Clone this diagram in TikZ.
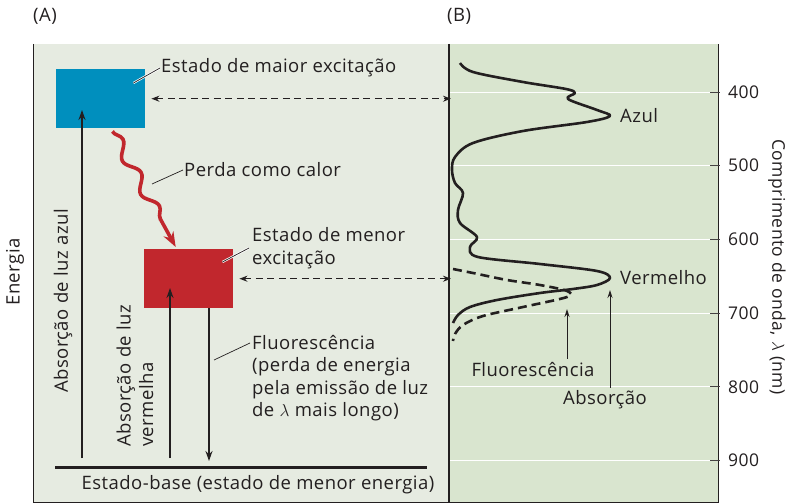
\documentclass[tikz,border=0pt]{standalone}
\usepackage{fontspec}
\setmainfont{Open Sans}[LetterSpace=2.5]
\usetikzlibrary{arrows.meta,positioning,calc,decorations.pathmorphing}
\definecolor{cpanelA}{HTML}{E6EBE1}
\definecolor{cpanelB}{HTML}{D9E5CF}
\definecolor{cblue}{HTML}{008FBE}
\definecolor{cred}{HTML}{C1272D}
\definecolor{cink}{HTML}{231F20}
\tikzset{
  lbl/.style={inner sep=0pt,font=\fontsize{18.5}{22.5}\selectfont,text=cink},
  leader/.style={draw=cink,line width=0.7pt,preaction={draw=white,line width=2.2pt}},
  >=Stealth
}

\begin{document}
\begin{tikzpicture}[x=1pt,y=-1pt,
      level/.style={fill=#1,inner sep=0pt,minimum width=89pt,minimum height=59pt,anchor=north west},
      jump/.style={draw=cink,line width=1.8pt,-{Stealth[length=10pt,width=7pt]}},
      gap/.style={draw=cink,line width=1.2pt,dash pattern=on 7pt off 4.5pt,{Stealth[length=8pt,width=6pt]}-{Stealth[length=8pt,width=6pt]}},
      tag/.style={draw=cink,line width=0.9pt,-{Stealth[length=8pt,width=5pt]}},
      spec/.style={draw=cink,line width=2.6pt,line join=round}]
    \useasboundingbox (0,0) rectangle (786,503);
    % panels
    \fill[cpanelA] (33,44) rectangle (449,502);
    \fill[cpanelB] (449,44) rectangle (718,502);
    \draw[cink,line width=1pt] (33,44) -- (33,502) -- (718,502) -- (718,44);
    \foreach \w in {400,500,...,900}{
      \pgfmathsetmacro{\yy}{92+(\w-400)*0.737}
      \draw[white,line width=0.9pt] (449,\yy) -- (710,\yy);
      \draw[cink!85,line width=0.9pt] (710,\yy) -- (720,\yy);
      \node[lbl,anchor=west,font=\fontsize{17.5}{21}\selectfont] (t\w) at (728,\yy) {\w};
    }
    \draw[cink,line width=2.2pt] (449,44) -- (449,502);
    \coordinate (spine) at (445,44);
    \node[lbl,anchor=west] (pA) at (33,16) {(A)};
    \node[lbl,anchor=west] (pB) at (447,16) {(B)};

    % (A) energy levels
    \node[level=cblue] (blue) at (56,69) {};
    \node[level=cred] (red) at (144,249) {};
    \draw[cink,line width=3pt] (55,467) -- (427,467);
    \node[lbl] (base) at (258,485) {Estado-base (estado de menor energia)};
    \coordinate (gA) at (82,458); \coordinate (tA) at (82,110);
    \coordinate (gB) at (170,458); \coordinate (tB) at (170,288);
    \coordinate (gC) at (209,461);
    \draw[jump] (gA) -- (tA);
    \draw[jump] (gB) -- (tB);
    \draw[jump] (red.south -| gC) -- (gC);
    \draw[gap] ([xshift=6pt]blue.east) -- ([xshift=6pt]blue.east -| spine);
    \draw[gap] ([xshift=6pt]red.east) -- ([xshift=6pt]red.east -| spine);
    \draw[cred,line width=3.6pt,-{Stealth[length=15pt,width=11pt]},
      decorate,decoration={snake,segment length=38pt,amplitude=5.5pt,post length=16pt}]
      ([xshift=-33pt,yshift=-3pt]blue.south east) -- ([xshift=-13pt,yshift=2pt]red.north);

    \node[lbl] (axA) at (15,272) [rotate=90] {Energia};
    \node[lbl] (azA) at (63,301) [rotate=90] {Absorção de luz azul};
    \node[lbl,rotate=90,anchor=west,align=left] (vmA) at (135,447) {Absorção de luz\\vermelha};
    \node[lbl,anchor=west] (maior) at (161,68) {Estado de maior excitação};
    \node[lbl,anchor=west] (perda) at (184,170) {Perda como calor};
    \node[lbl,anchor=west,align=left] (menor) at (252,248) {Estado de menor\\excitação};
    \node[lbl,anchor=north west,align=left] (fluo) at (252,335)
      {Fluorescência\\(perda de energia\\pela emissão de luz\\de $\lambda$ mais longo)};
    \draw[leader] ([xshift=-12pt,yshift=-14pt]blue.north east) -- ([xshift=-1pt]maior.west);
    \draw[leader] ([xshift=-11pt,yshift=-13pt]red.north east) -- ([xshift=-3pt]menor.west);
    \draw[cink,line width=0.7pt] (152,184) -- ([xshift=-1pt]perda.west);
    \draw[cink,line width=0.7pt] (214,360) -- ([xshift=-2pt,yshift=-8pt]fluo.north west);

    % (B) spectra
    \draw[spec] plot[smooth,tension=0.55] coordinates {(460,63) (473,72) (523,82) (566,89)
      (575,93) (568,99) (597,110) (610,116) (587,122) (523,131) (473,143) (455,157)
      (452,170) (455,183) (463,193) (458,210) (460,223) (477,237) (470,247) (478,257)
      (540,264) (597,271) (610,278) (597,285) (573,289) (540,293) (497,300) (470,307)
      (458,315) (453,323)};
    \draw[spec,dash pattern=on 9pt off 5pt] plot[smooth,tension=0.55] coordinates {(453,269)
      (473,273) (507,280) (540,285) (567,291) (567,297) (523,307) (483,316) (463,325)
      (455,334) (453,341)};
    \node[lbl,anchor=west] (azul) at (620,116) {Azul};
    \node[lbl,anchor=west] (verm) at (620,278) {Vermelho};
    \node[lbl] (fl) at (533,369) {Fluorescência};
    \node[lbl] (ab) at (605,400) {Absorção};
    \coordinate (fpk) at (567,309);
    \coordinate (apk) at (610,290);
    \draw[tag] ([yshift=3pt]fl.north -| fpk) -- (fpk);
    \draw[tag] ([yshift=3pt]ab.north -| apk) -- (apk);
    \node[lbl,rotate=-90,font=\fontsize{17.5}{21}\selectfont] (axB) at (777,267) {Comprimento de onda, $\lambda$ (nm)};
  \end{tikzpicture}
\end{document}
